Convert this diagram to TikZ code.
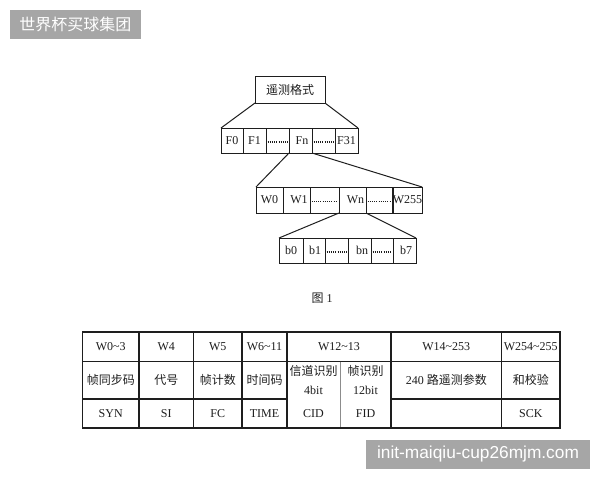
\documentclass[tikz,border=0pt]{standalone}
\usepackage{fontspec}
\setmainfont{Liberation Serif}
\newfontfamily\cjk{Noto Sans CJK SC}
\newfontfamily\wmsans{Liberation Sans}
\definecolor{wmgray}{HTML}{A6A6A6}
\definecolor{ink}{HTML}{1E1E1E}
\newcommand\mycell[7]{\node[#6, minimum width={#4-#2}, minimum height={#5-#3}] (#1) at ({(#2+#4)/2},{(#3+#5)/2}) {#7};}
\begin{document}
\begin{tikzpicture}[x=1pt,y=-1pt,
  box/.style={draw=ink, line width=1pt, rectangle, inner sep=0pt, outer sep=0pt,
    font=\fontsize{12}{14}\selectfont, text=ink},
  tcell/.style={draw=ink, line width=1.1pt, rectangle, inner sep=0pt, outer sep=0pt,
    font=\fontsize{12}{14}\selectfont, text=ink, align=center},
  tcellnb/.style={rectangle, inner sep=0pt, outer sep=0pt,
    font=\fontsize{12}{19}\selectfont, text=ink, align=center},
  link/.style={draw=ink, line width=1pt},
  dots/.style={draw=ink, line width=1.1pt, dash pattern=on 1pt off 1.2pt},
  wm/.style={fill=wmgray, inner sep=0pt, outer sep=0pt, text=white}
]
\useasboundingbox (0,0) rectangle (600,480);
\fill[white] (0,0) rectangle (600,480);

% watermarks
\mycell{wma}{10}{10}{141}{39}{wm, font=\cjk\fontsize{16}{18}\selectfont}{世界杯买球集团}
\mycell{wmb}{366}{440}{590}{469}{wm, font=\wmsans\fontsize{17.3}{19}\selectfont}{init-maiqiu-cup26mjm.com}

% top box
\mycell{top}{255}{76}{325}{103}{box, font=\cjk\fontsize{12}{14}\selectfont}{遥测格式}

% F row
\mycell{f0}{221}{128}{243}{153}{box}{F0}
\mycell{f1}{243}{128}{266}{153}{box}{F1}
\mycell{f2}{266}{128}{289}{153}{box}{}
\mycell{f3}{289}{128}{312}{153}{box}{\hspace{3pt}Fn}
\mycell{f4}{312}{128}{335}{153}{box}{}
\mycell{f5}{335}{128}{358}{153}{box}{F31}

% W row
\mycell{w0}{256}{187}{283}{213}{box}{W0}
\mycell{w1}{283}{187}{310}{213}{box}{\hspace{5pt}W1}
\mycell{w2}{310}{187}{339}{213}{box}{}
\mycell{w3}{339}{187}{366}{213}{box}{\hspace{6pt}Wn}
\mycell{w4}{366}{187}{393}{213}{box}{}
\mycell{w5}{393}{187}{422}{213}{box}{W255}

% b row
\mycell{b0}{279}{238}{303}{263}{box}{b0}
\mycell{b1}{303}{238}{325}{263}{box}{\hspace{2pt}b1}
\mycell{b2}{325}{238}{348}{263}{box}{}
\mycell{b3}{348}{238}{371}{263}{box}{\hspace{5pt}bn}
\mycell{b4}{371}{238}{393}{263}{box}{}
\mycell{b5}{393}{238}{416}{263}{box}{\hspace{3pt}b7}

% dotted fillers
\foreach \c in {f2,f4,w2,w4,b2,b4}
  \draw[dots] ([xshift=1.5pt,yshift=-1.5pt]\c.west) -- ([xshift=-1.5pt,yshift=-1.5pt]\c.east);

% connectors
\draw[link] (top.south west) -- (f0.north west);
\draw[link] (top.south east) -- (f5.north east);
\draw[link] (f3.south west) -- (w0.north west);
\draw[link] (f3.south east) -- (w5.north east);
\draw[link] (w3.south west) -- (b0.north west);
\draw[link] (w3.south east) -- (b5.north east);

% caption
\node[font=\fontsize{12}{14}\selectfont, text=ink, inner sep=0pt] (cap) at (322,298) {{\cjk 图} 1};

% table row 1
\mycell{t10}{82.5}{332}{139}{361.5}{tcell}{W0\textasciitilde3}
\mycell{t11}{139}{332}{193.5}{361.5}{tcell}{W4}
\mycell{t12}{193.5}{332}{242}{361.5}{tcell}{W5}
\mycell{t13}{242}{332}{287}{361.5}{tcell}{W6\textasciitilde11}
\mycell{t14}{287}{332}{391}{361.5}{tcell}{W12\textasciitilde13}
\mycell{t15}{391}{332}{501.5}{361.5}{tcell}{W14\textasciitilde253}
\mycell{t16}{501.5}{332}{560}{361.5}{tcell}{W254\textasciitilde255}
% table row 2
\mycell{t20}{82.5}{361.5}{139}{399}{tcell, font=\cjk\fontsize{12}{14}\selectfont}{帧同步码}
\mycell{t21}{139}{361.5}{193.5}{399}{tcell, font=\cjk\fontsize{12}{14}\selectfont}{代号}
\mycell{t22}{193.5}{361.5}{242}{399}{tcell, font=\cjk\fontsize{12}{14}\selectfont}{帧计数}
\mycell{t23}{242}{361.5}{287}{399}{tcell, font=\cjk\fontsize{12}{14}\selectfont}{时间码}
\mycell{t24}{287}{361.5}{340}{399}{tcellnb}{{\cjk 信道识别}\\4bit}
\mycell{t25}{340}{361.5}{391}{399}{tcellnb}{{\cjk 帧识别}\\12bit}
\mycell{t26}{391}{361.5}{501.5}{399}{tcell}{240 {\cjk 路遥测参数}}
\mycell{t27}{501.5}{361.5}{560}{399}{tcell, font=\cjk\fontsize{12}{14}\selectfont}{和校验}
% table row 3
\mycell{t30}{82.5}{399}{139}{428}{tcell}{SYN}
\mycell{t31}{139}{399}{193.5}{428}{tcell}{SI}
\mycell{t32}{193.5}{399}{242}{428}{tcell}{FC}
\mycell{t33}{242}{399}{287}{428}{tcell}{TIME}
\mycell{t34}{287}{399}{340}{428}{tcellnb}{CID}
\mycell{t35}{340}{399}{391}{428}{tcellnb}{FID}
\mycell{t36}{391}{399}{501.5}{428}{tcell}{}
\mycell{t37}{501.5}{399}{560}{428}{tcell}{SCK}
% borders of the split cells
\draw[ink, line width=1.1pt] (t24.north west) -- (t34.south west) -- (t35.south east) -- (t25.north east);
\draw[ink, line width=1.1pt] (t24.north west) -- (t25.north east);
\draw[black!45, line width=0.7pt] (t25.north west) -- (t35.south west);
% outer border
\draw[ink, line width=1.8pt] (t10.north west) rectangle (t37.south east);
\end{tikzpicture}
\end{document}
